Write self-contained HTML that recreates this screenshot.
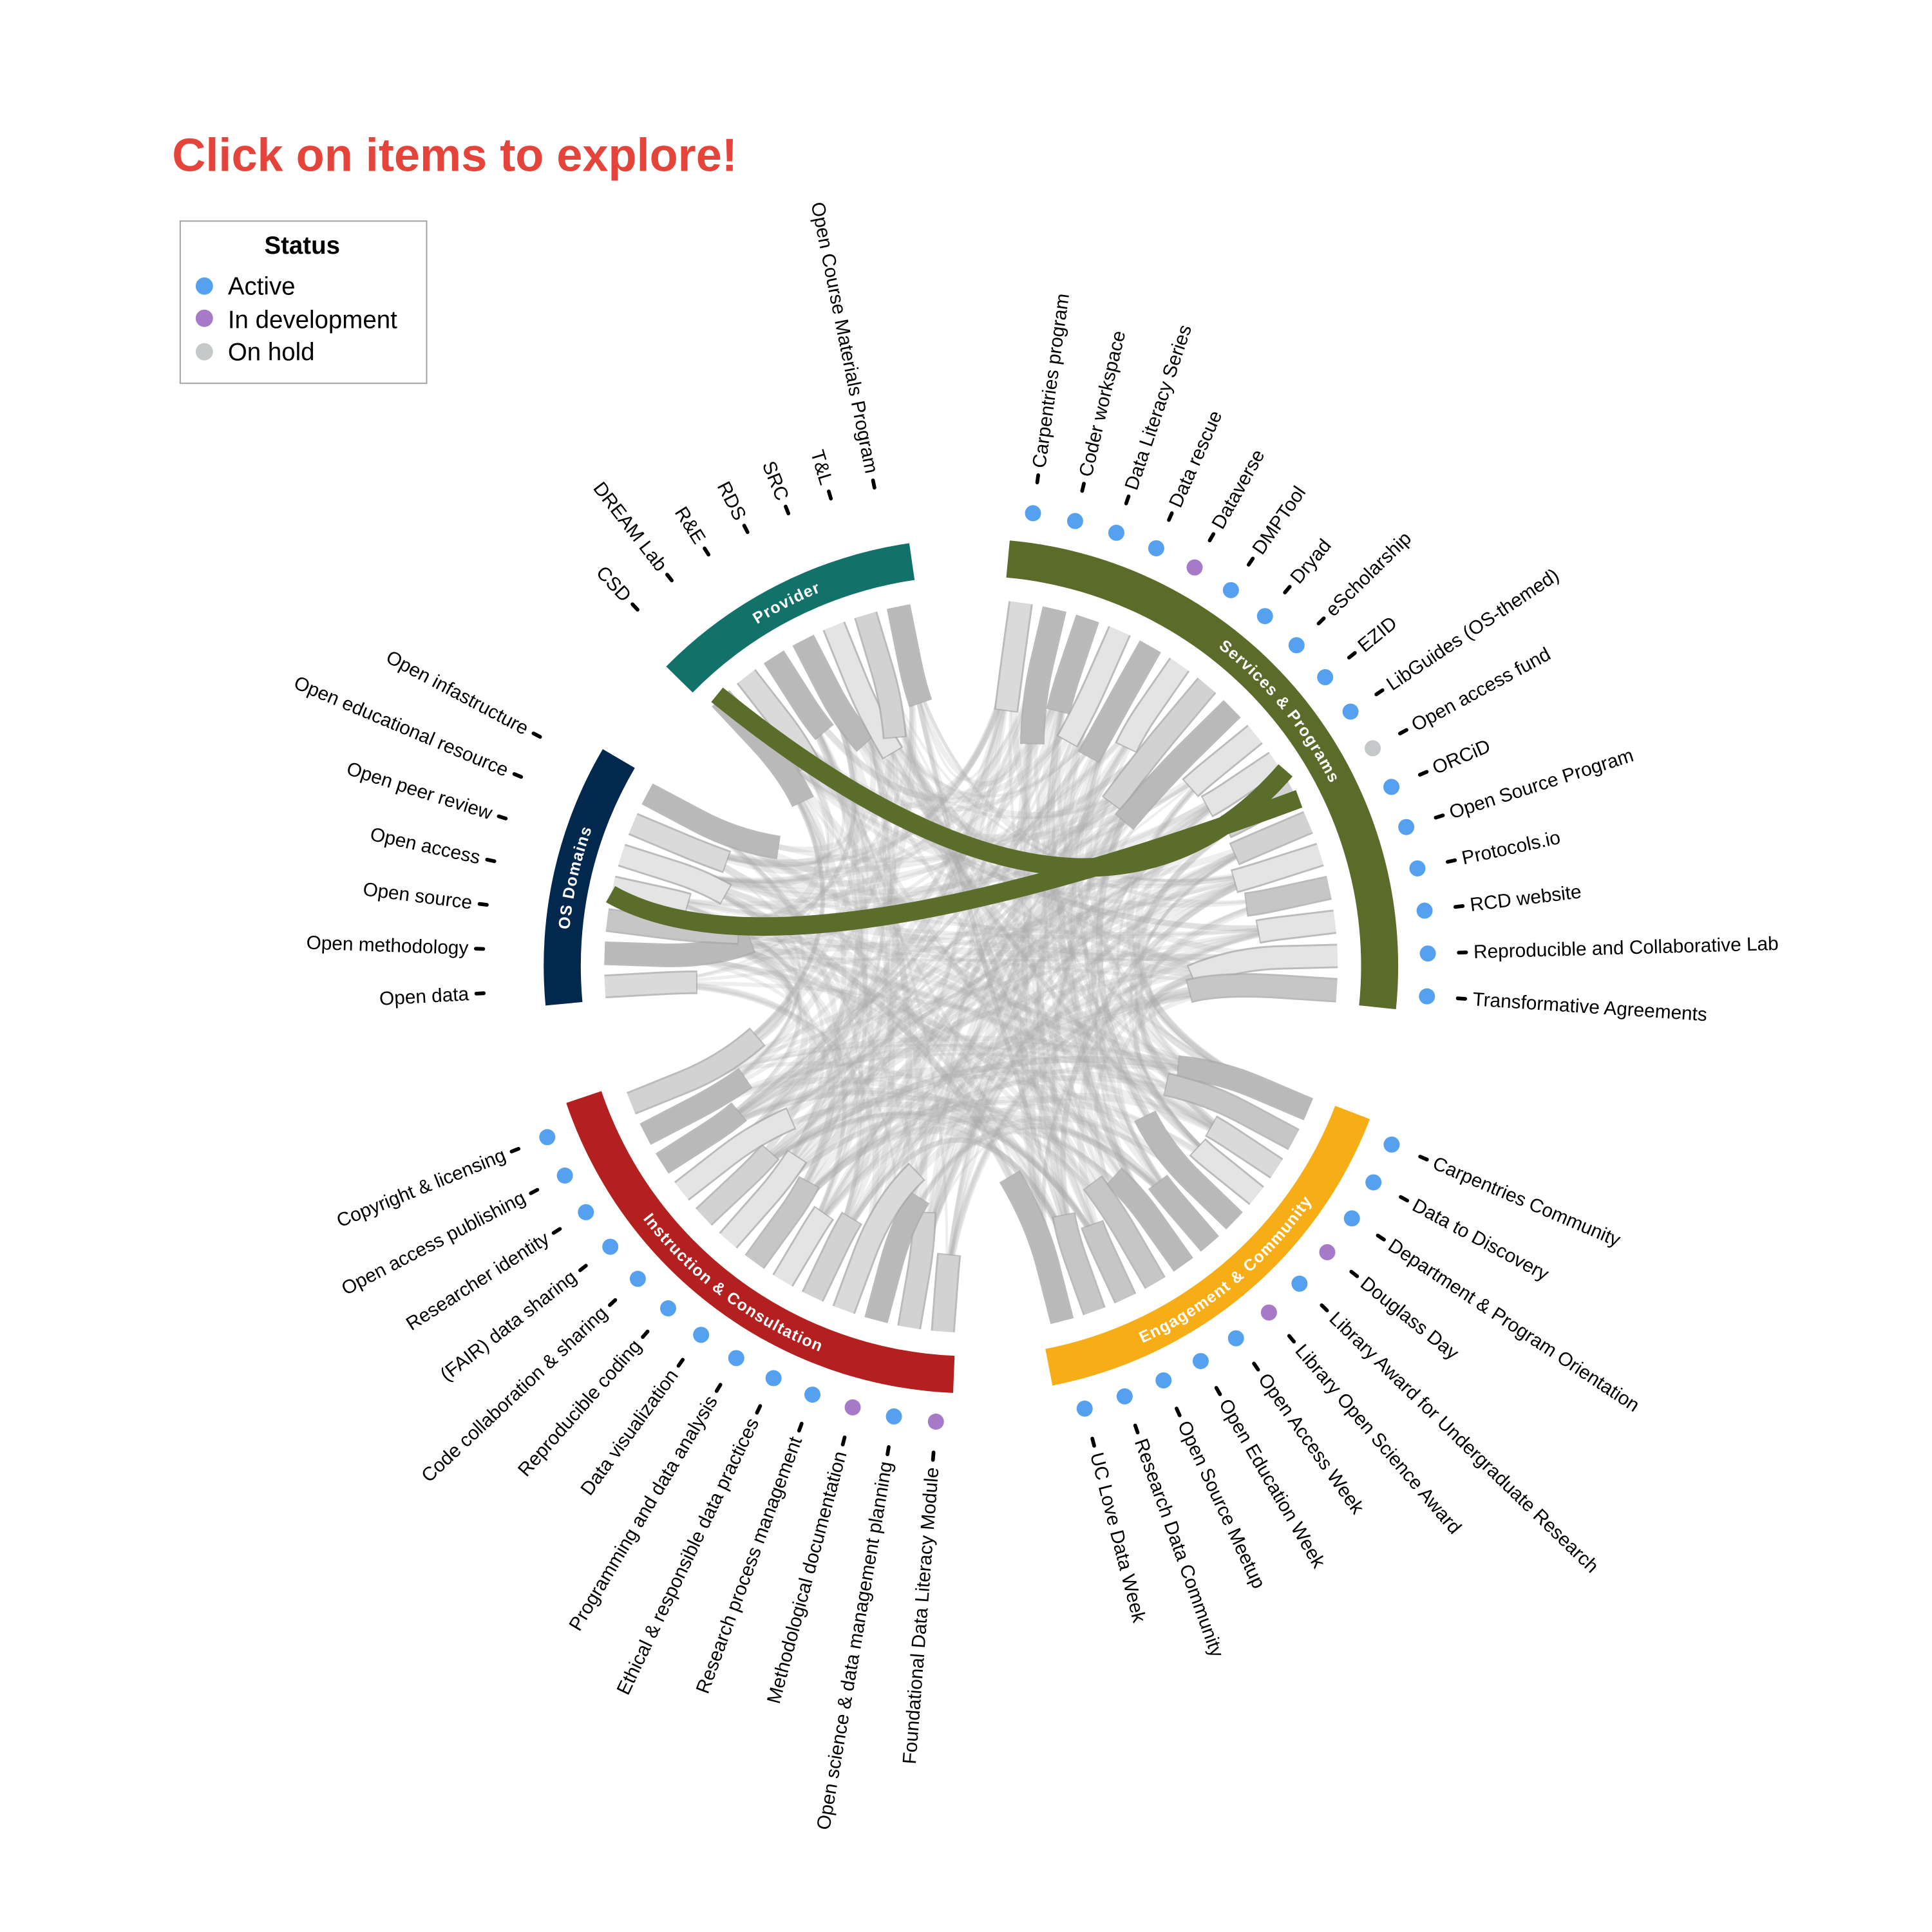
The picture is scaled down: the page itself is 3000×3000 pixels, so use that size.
<!DOCTYPE html>
<html><head><meta charset="utf-8">
<style>
html,body{margin:0;padding:0;background:#fff;}
svg{display:block;}
text{font-family:"Liberation Sans",Arial,sans-serif;}
</style></head>
<body>
<svg id="s" xmlns="http://www.w3.org/2000/svg" width="3000" height="3000" viewBox="0 0 1560 1560">
<rect width="1560" height="1560" fill="#fff"/>
<text x="139" y="138" font-size="37.5" font-weight="bold" fill="#e5443a">Click on items to explore!</text>
<rect x="145.5" y="178.5" width="199" height="131" fill="#fff" stroke="#a0a0a0" stroke-width="1"/>
<text x="244" y="205" font-size="20" font-weight="bold" text-anchor="middle">Status</text>
<circle cx="165" cy="231" r="7" fill="#56a1ef"/><text x="184" y="238" font-size="20">Active</text>
<circle cx="165" cy="257" r="7" fill="#a77ac8"/><text x="184" y="265" font-size="20">In development</text>
<circle cx="165" cy="284" r="7" fill="#c5c8c8"/><text x="184" y="291" font-size="20">On hold</text>
<g id="chords"></g>
<g id="fg"></g>
</svg>
<script>
(function(){
var NS="http://www.w3.org/2000/svg";
var cx=784,cy=780;
function pt(r,a){var t=a*Math.PI/180;return [cx+r*Math.sin(t),cy-r*Math.cos(t)];}
function f(p){return p[0].toFixed(1)+","+p[1].toFixed(1);}
function el(tag,attrs,parent,txt){var e=document.createElementNS(NS,tag);for(var k in attrs)e.setAttribute(k,attrs[k]);if(txt!=null)e.textContent=txt;(parent||document.getElementById("fg")).appendChild(e);return e;}
var B="#56a1ef",P="#a77ac8",G="#c5c8c8";
var groups=[
{name:"Services & Programs",color:"#5b6b2a",a1:5.2,a2:95.8,i1:7.8,i2:93.8,dots:true,cw:true,
 items:["Carpentries program","Coder workspace","Data Literacy Series","Data rescue","Dataverse","DMPTool","Dryad","eScholarship","EZID","LibGuides (OS-themed)","Open access fund","ORCiD","Open Source Program","Protocols.io","RCD website","Reproducible and Collaborative Lab","Transformative Agreements"],
 dc:[B,B,B,B,P,B,B,B,B,B,G,B,B,B,B,B,B]},
{name:"Engagement & Community",color:"#f7ad15",a1:111,a2:169,i1:113,i2:165.6,dots:true,cw:false,
 items:["Carpentries Community","Data to Discovery","Department & Program Orientation","Douglass Day","Library Award for Undergraduate Research","Library Open Science Award","Open Access Week","Open Education Week","Open Source Meetup","Research Data Community","UC Love Data Week"],
 dc:[B,B,B,P,B,P,B,B,B,B,B]},
{name:"Instruction & Consultation",color:"#b3201f",a1:182.4,a2:251.3,i1:184.4,i2:248,dots:true,cw:false,
 items:["Foundational Data Literacy Module","Open science & data management planning","Methodological documentation","Research process management","Ethical & responsible data practices","Programming and data analysis","Data visualization","Reproducible coding","Code collaboration & sharing","(FAIR) data sharing","Researcher identity","Open access publishing","Copyright & licensing"],
 dc:[P,B,P,B,B,B,B,B,B,B,B,B,B]},
{name:"OS Domains",color:"#03284d",a1:264.7,a2:300.5,i1:266.8,i2:298,dots:false,cw:true,
 items:["Open data","Open methodology","Open source","Open access","Open peer review","Open educational resource","Open infastructure"]},
{name:"Provider",color:"#12726a",a1:314.5,a2:351.7,i1:316.9,i2:348.6,dots:false,cw:true,
 items:["CSD","DREAM Lab","R&E","RDS","SRC","T&L","Open Course Materials Program"]}
];
var defs=el("defs",{},document.getElementById("s"));
var seed=12345;function rnd(){seed=(seed*1103515245+12345)%2147483648;return seed/2147483648;}
var allItems=[];
groups.forEach(function(g,gi){
  var n=g.items.length;g.ang=[];
  for(var i=0;i<n;i++){var a=g.i1+(g.i2-g.i1)*i/(n-1);g.ang.push(a);allItems.push({g:gi,a:a,sp:(g.i2-g.i1)/(n-1)});}
});
var ch=document.getElementById("chords");
allItems.forEach(function(it){
  var k=4+Math.floor(rnd()*4);
  for(var j=0;j<k;j++){
    var o;do{o=allItems[Math.floor(rnd()*allItems.length)];}while(o.g==it.g);
    var p0=pt(280,it.a),p3=pt(280,o.a),c1=pt(110,it.a),c2=pt(110,o.a);
    el("path",{d:"M"+f(p0)+"C"+f(c1)+" "+f(c2)+" "+f(p3),fill:"none",stroke:"#a8a8a8","stroke-width":(2+rnd()*4).toFixed(1),"stroke-opacity":"0.2"},ch);
  }
});
var shades=["#b9b9b9","#d2d2d2","#e4e4e4","#c6c6c6","#dadada"];
allItems.forEach(function(it){
  var w=Math.min(it.sp*0.6,3.6);
  var sw=2*296*Math.sin(w*Math.PI/360);
  var a=it.a,c=shades[Math.floor(rnd()*shades.length)];
  var o;do{o=allItems[Math.floor(rnd()*allItems.length)];}while(o.g==it.g);
  var d="M"+f(pt(296,a))+"L"+f(pt(250,a))+"C"+f(pt(120,a))+" "+f(pt(120,o.a))+" "+f(pt(296,o.a));
  var len=60+rnd()*70;
  el("path",{d:d,fill:"none",stroke:"#aaaaaa","stroke-width":(sw+3).toFixed(1),"stroke-dasharray":(len+1)+" 3000","stroke-opacity":"0.8"},ch);
  el("path",{d:d,fill:"none",stroke:c,"stroke-width":sw.toFixed(1),"stroke-dasharray":len+" 3000"},ch);
});
var fg=document.getElementById("fg");
el("path",{d:"M579,561 Q880,805 1038,622",fill:"none",stroke:"#5b6d2a","stroke-width":"15"},fg);
el("path",{d:"M493,722 Q630,800 1049,645",fill:"none",stroke:"#5b6d2a","stroke-width":"15"},fg);
groups.forEach(function(g,gi){
  var r2=345,r1=315,lg=(g.a2-g.a1)>180?1:0;
  el("path",{d:"M"+f(pt(r2,g.a1))+"A"+r2+","+r2+" 0 "+lg+" 1 "+f(pt(r2,g.a2))+"L"+f(pt(r1,g.a2))+"A"+r1+","+r1+" 0 "+lg+" 0 "+f(pt(r1,g.a1))+"Z",fill:g.color});
  var id="gp"+gi,d;
  if(g.cw){d="M"+f(pt(325.5,g.a1))+"A325.5,325.5 0 0 1 "+f(pt(325.5,g.a2));}
  else{d="M"+f(pt(334.5,g.a2))+"A334.5,334.5 0 0 0 "+f(pt(334.5,g.a1));}
  el("path",{id:id,d:d,fill:"none"},defs);
  var t=el("text",{"font-size":"13","font-weight":"bold",fill:"#fff","letter-spacing":"0.7"});
  el("textPath",{href:"#"+id,startOffset:"50%","text-anchor":"middle"},t,g.name);
  g.items.forEach(function(name,i){
    var a=g.ang[i];
    if(g.dots){var dp=pt(369,a);el("circle",{cx:dp[0].toFixed(1),cy:dp[1].toFixed(1),r:"6.5",fill:g.dc[i]});}
    var dr=397;
    el("path",{d:"M"+f(pt(dr-3,a))+"L"+f(pt(dr+3,a)),stroke:"#000","stroke-width":"3","stroke-linecap":"round"});
    var right=a<180;
    var tp=pt(dr+9,a);
    var rot=right?a-90:a+90;
    el("text",{x:tp[0].toFixed(1),y:tp[1].toFixed(1),"font-size":"15.5","text-anchor":right?"start":"end","dominant-baseline":"central",transform:"rotate("+rot.toFixed(2)+" "+tp[0].toFixed(1)+" "+tp[1].toFixed(1)+")"},null,name);
  });
});
})();
</script>
</body></html>
